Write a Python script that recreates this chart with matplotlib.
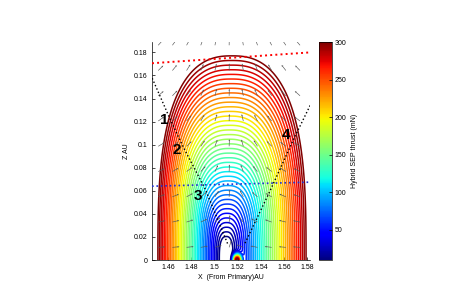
import numpy as np
import matplotlib
matplotlib.use("Agg")
import matplotlib.pyplot as plt

plt.rcParams['font.family'] = ['Liberation Sans', 'DejaVu Sans']

# field shape parameters (thrust contours around the secondary)
x0_base = 1.510
x0_per_mN = 0.000017       # contour centre drifts right with level
hw_per_mN = 0.0002         # half width of a contour at z=0, per mN
hw_offset = 0.004
apex_per_mN = 0.00054      # apex height per mN
apex_offset = 0.015
exp_x, exp_z = 2.5, 3.0
levels = np.linspace(10, 300, 40)
body_x, body_z = 1.5195, 0.0
body_peak = 300
body_size = (0.003, 0.0045)

# dotted guide lines
red_line_x = [1.446, 1.5826]
red_line_z = [0.1706, 0.180]
blue_line_x = [1.446, 1.5826]
blue_line_z = [0.064, 0.0675]
left_path_x = [1.4462, 1.4617, 1.473, 1.492, 1.5118]
left_path_z = [0.1576, 0.122, 0.098, 0.0615, 0.013]
right_path_x = [1.5826, 1.568, 1.548, 1.5256]
right_path_z = [0.134, 0.104, 0.060, 0.013]

# numbered labels
label_text = ['1', '2', '3', '4']
label_x = [1.4565, 1.4675, 1.4855, 1.562]
label_z = [0.1215, 0.0955, 0.0555, 0.1085]

# quiver grid
qx = 1.4514 + 0.01225 * np.arange(11)
qz = 0.011 + 0.0219 * np.arange(9)

x = np.linspace(1.446, 1.5826, 400)
z = np.linspace(0, 0.189, 320)
X, Z = np.meshgrid(x, z)

# find the thrust level c whose superellipse passes through each point
lo = np.full(X.shape, 0.0)
hi = np.full(X.shape, 500.0)
for _ in range(40):
    c = (lo + hi) / 2
    dx = np.abs(X - (x0_base + x0_per_mN * c))
    hw = hw_per_mN * c + hw_offset
    za = apex_per_mN * c + apex_offset
    g = (dx / hw) ** exp_x + (Z / za) ** exp_z
    inside = g < 1
    hi = np.where(inside, c, hi)
    lo = np.where(inside, lo, c)
F = (lo + hi) / 2
F += body_peak * np.exp(-((X - body_x) / body_size[0]) ** 2 - ((Z - body_z) / body_size[1]) ** 2)

fig = plt.figure(figsize=(4.72, 2.89), dpi=100)
ax = fig.add_axes([0.322, 0.1003, 0.335, 0.7543])
cax = fig.add_axes([0.676, 0.1003, 0.0275, 0.7543])

ax.contour(X, Z, F, levels=levels, cmap='jet', vmin=10, vmax=300, linewidths=1.1)

QX, QZ = np.meshgrid(qx, qz)
U = -(QX - 1.514) / 0.045
V = QZ / 0.12
n = np.hypot(U, V)
ax.quiver(QX, QZ, U / n, V / n, color='#555555', scale=1 / 0.07, scale_units='inches',
          width=0.004, headwidth=3, headlength=3, headaxislength=2.5, zorder=3)

ax.plot(red_line_x, red_line_z, color='red', linestyle=':', linewidth=1.4, zorder=4)
ax.plot(blue_line_x, blue_line_z, color='#2030d0', linestyle=':', linewidth=1.2, zorder=4)
ax.plot(left_path_x, left_path_z, color='k', linestyle=':', linewidth=1.0, zorder=4)
ax.plot(right_path_x, right_path_z, color='k', linestyle=':', linewidth=1.0, zorder=4)
for t, lx, lz in zip(label_text, label_x, label_z):
    ax.text(lx, lz, t, fontsize=11, fontweight='bold', ha='center', va='center', zorder=5)

ax.set_xlim(1.446, 1.5826)
ax.set_ylim(0, 0.189)
ax.set_xticks([1.46, 1.48, 1.5, 1.52, 1.54, 1.56, 1.58])
ax.set_xticklabels(['1.46', '1.48', '1.5', '1.52', '1.54', '1.56', '1.58'])
ax.set_yticks(np.arange(0, 0.181, 0.02))
ax.set_yticklabels(['0', '0.02', '0.04', '0.06', '0.08', '0.1', '0.12', '0.14', '0.16', '0.18'])
ax.tick_params(direction='in', labelsize=5, length=2, width=0.5, pad=3)
ax.spines['top'].set_visible(False)
ax.spines['right'].set_visible(False)
ax.spines['left'].set_linewidth(0.5)
ax.spines['bottom'].set_linewidth(0.5)
ax.set_xlabel('X  (From Primary)AU', fontsize=5, labelpad=2)
ax.set_ylabel('Z AU', fontsize=5, labelpad=3)

sm = plt.cm.ScalarMappable(cmap='jet', norm=plt.Normalize(10, 300))
cb = fig.colorbar(sm, cax=cax)
cb.set_ticks([50, 100, 150, 200, 250, 300])
cb.ax.tick_params(labelsize=5, direction='in', length=2, width=0.5, pad=2)
cb.outline.set_linewidth(0.5)
cb.set_label('Hybrid SEP thrust (mN)', fontsize=5, labelpad=3)

fig.savefig('out.png', dpi=100)
